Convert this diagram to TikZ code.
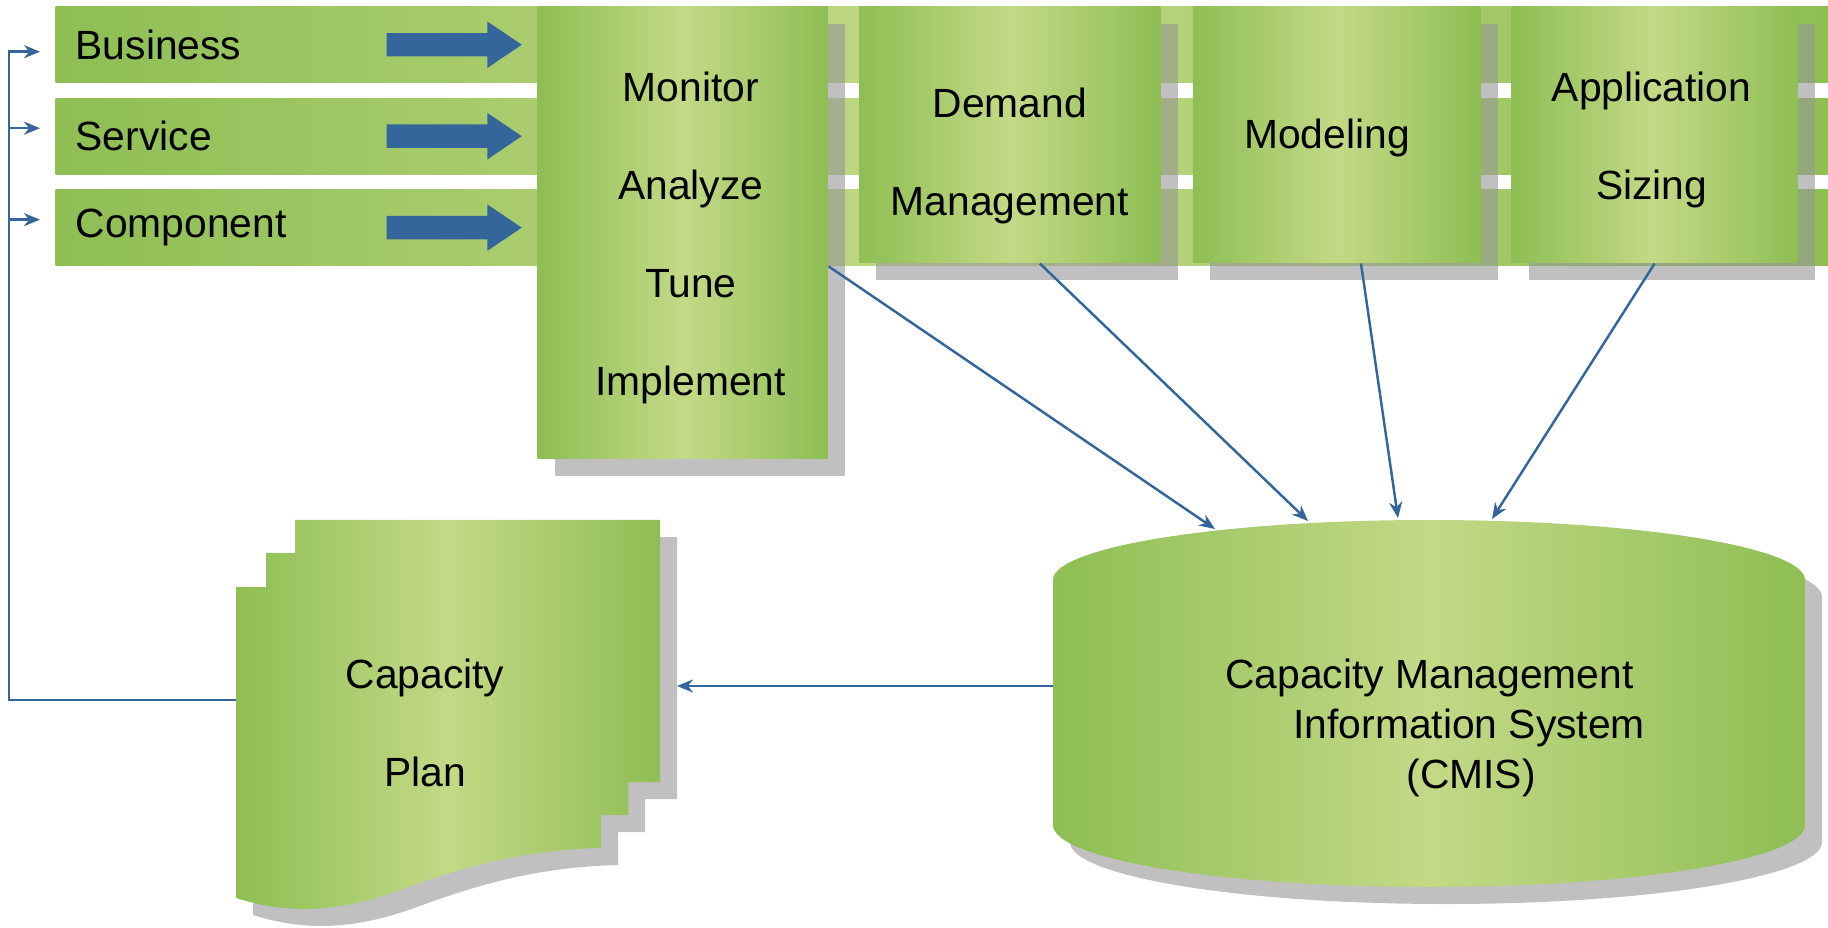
\documentclass[tikz,border=0pt]{standalone}
\usepackage{fontspec}
\setmainfont{Liberation Sans}
\usetikzlibrary{positioning, arrows.meta, calc, shapes.arrows, shadows}

\definecolor{gdark}{RGB}{142,190,84}
\definecolor{glight}{RGB}{195,217,134}
\definecolor{arrblue}{RGB}{52,101,155}
\definecolor{shgray}{RGB}{150,150,150}

\begin{document}
\begin{tikzpicture}[
  x=0.01cm, y=-0.01cm,
  gshade/.style={left color=gdark, right color=gdark, middle color=glight},
  shadowed/.style={drop shadow={shadow xshift=1.7mm, shadow yshift=-1.7mm, fill=shgray, opacity=0.6}},
  band/.style={gshade, minimum width=17.73cm, minimum height=7.6mm, inner xsep=2mm, inner ysep=0pt,
    text width=17.33cm, align=left, anchor=north west, font=\fontsize{11.6}{14}\selectfont},
  box/.style={gshade, shadowed, inner sep=0pt, anchor=north west, minimum height=2.56cm},
  boxtext/.style={align=center, yshift=-0.5mm, font=\fontsize{11.6}{27.9}\selectfont},
  txt/.style={yshift=-0.4mm, font=\fontsize{11.6}{14.2}\selectfont},
  blockarrow/.style={single arrow, fill=arrblue, minimum height=1.35cm, minimum width=4.5mm,
    inner xsep=0pt, inner ysep=1.1mm, single arrow head extend=1.15mm, single arrow tip angle=68, anchor=tip},
  conn/.style={draw=arrblue, line width=0.7pt, -{Stealth[length=1.6mm, width=1.3mm]}}
]
\useasboundingbox (0,0) rectangle (1828,928);

% layers
\node[band] (bus) at (55,6) {Business};
\node[band, below=1.4mm of bus] (serv) {Service};
\node[band, below=1.4mm of serv] (comp) {Component};

% process boxes
\node[box, minimum width=2.9cm, minimum height=4.52cm] (mon) at (537,6) {};
\node[box, minimum width=3.01cm, right=3mm of mon.north east, anchor=north west] (dem) {};
\node[box, minimum width=2.88cm, right=3.1mm of dem.north east, anchor=north west] (mod) {};
\node[box, minimum width=2.86cm, right=2.9mm of mod.north east, anchor=north west] (app) {};

\node[boxtext] at ($(mon)+(8,0)$) {Monitor\\Analyze\\Tune\\Implement};
\node[boxtext] at ($(dem)+(0,16)$) {Demand\\Management};
\node[boxtext] at ($(mod)+(-10,-2)$) {Modeling};
\node[boxtext] at ($(app)+(-3,0)$) {Application\\Sizing};

\node[blockarrow] (arrB) at ($(mon.west |- bus.center)+(-14,0)$) {};
\node[blockarrow] (arrS) at ($(mon.west |- serv.center)+(-14,0)$) {};
\node[blockarrow] (arrC) at ($(mon.west |- comp.center)+(-14,0)$) {};

% CMIS store
\path[gshade, shadowed] (1053,580) .. controls (1053,547) and (1221,520) .. (1429,520)
  .. controls (1637,520) and (1805,547) .. (1805,580) -- (1805,825)
  .. controls (1805,859) and (1637,887) .. (1429,887)
  .. controls (1221,887) and (1053,859) .. (1053,825) -- cycle;
\node[txt, align=left, anchor=west] (cmis) at (1213,724)
  {Capacity Management\\\hspace*{6.8mm}Information System\\\hspace*{18.1mm}(CMIS)};
\coordinate (cmisL) at (1053,686);
\coordinate (in1) at (1215,529);
\coordinate (in2) at (1308,521);
\coordinate (in3) at (1398,518);
\coordinate (in4) at (1492,519);

% capacity plan
\path[gshade, shadowed] (295,520) -- (660,520) -- (660,782) -- (628,782) -- (628,815) -- (601,815) -- (601,848)
  .. controls (520,850) and (460,868) .. (400,890)
  .. controls (340,912) and (290,915) .. (236,898) -- (236,587) -- (266,587) -- (266,553) -- (295,553) -- cycle;
\node[boxtext] (plan) at (425,718) {Capacity\\Plan};
\coordinate (planR) at (677,686);
\coordinate (planL) at (236,700);

% connectors
\draw[conn] (mon.east |- comp.south) -- (in1);
\draw[conn] ($(dem.south)+(30,0)$) -- (in2);
\draw[conn] ($(mod.south)+(24,0)$) -- (in3);
\draw[conn] (app.south) -- (in4);
\draw[conn] (cmisL) -- (planR);

% feedback
\coordinate (fb) at (9,700);
\draw[conn] (planL) -- (fb) |- ($(bus.west)+(-15,7)$);
\draw[conn] (fb) |- ($(serv.west)+(-15,-8)$);
\draw[conn] (fb) |- ($(comp.west)+(-15,-8)$);
\end{tikzpicture}
\end{document}
